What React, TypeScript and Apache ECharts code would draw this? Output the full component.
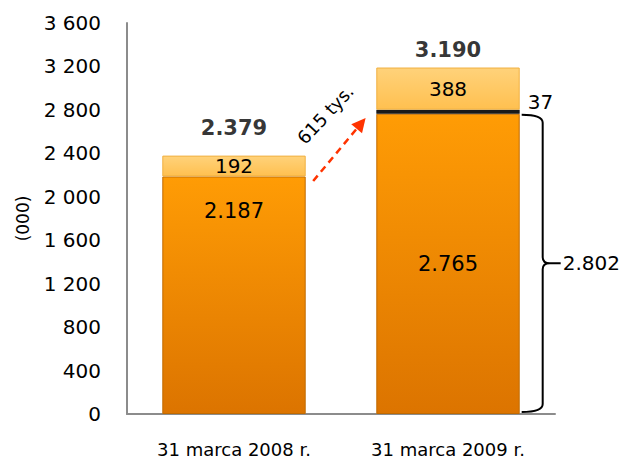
import React, { useEffect, useRef } from "react";
import * as echarts from "echarts";

const categories = ["31 marca 2008 r.", "31 marca 2009 r."];
const baseValues = [2187, 2765];
const lineValues = [0, 37];
const topValues = [192, 388];
const totals = [2379, 3190];
const braceData = [[1, 0, 2802]];
const arrowData = [[0, 2145, 1, 2725]];
const arrowLabel = "615 tys.";
const yTicks = [0, 400, 800, 1200, 1600, 2000, 2400, 2800, 3200, 3600];

const FONT = "DejaVu Sans";

const fmtPl = (v: number) => {
  const s = String(v);
  return s.length > 3 ? s.slice(0, s.length - 3) + "." + s.slice(-3) : s;
};
const fmtTick = (v: number) => {
  const s = String(v);
  return s.length > 3 ? s.slice(0, s.length - 3) + " " + s.slice(-3) : s;
};

const orange = new echarts.graphic.LinearGradient(0, 0, 0, 1, [
  { offset: 0, color: "#FF9C05" },
  { offset: 1, color: "#DC7400" },
]);
const light = new echarts.graphic.LinearGradient(0, 0, 0, 1, [
  { offset: 0, color: "#FFD27A" },
  { offset: 1, color: "#FFC050" },
]);

export default function App() {
  const ref = useRef<HTMLDivElement>(null);
  useEffect(() => {
    if (!ref.current) return;
    const chart = echarts.init(ref.current, undefined, { renderer: "svg" });
    const barWidthPct = 0.67;
    chart.setOption({
      animation: false,
      grid: { left: 127, right: 68, top: 23, bottom: 50, containLabel: false },
      xAxis: {
        type: "category",
        data: categories,
        axisLine: { lineStyle: { color: "#8c8c8c", width: 2 } },
        axisTick: { show: false },
        axisLabel: { color: "#000", fontFamily: FONT, fontSize: 18, margin: 26 },
      },
      yAxis: {
        type: "value",
        min: 0,
        max: 3600,
        interval: 400,
        name: "(000)",
        nameLocation: "middle",
        nameRotate: 90,
        nameGap: 96,
        nameTextStyle: { color: "#000", fontFamily: FONT, fontSize: 17 },
        axisLine: { show: true, lineStyle: { color: "#8c8c8c", width: 2 } },
        axisTick: { show: false },
        splitLine: { show: false },
        axisLabel: {
          color: "#000",
          fontFamily: FONT,
          fontSize: 20,
          margin: 26,
          formatter: (v: number) => (yTicks.includes(v) ? fmtTick(v) : ""),
        },
      },
      series: [
        {
          type: "bar",
          stack: "s",
          barWidth: barWidthPct * 100 + "%",
          data: baseValues.map((v, i) => ({
            value: v,
            label: {
              show: true,
              position: i === 0 ? "insideTop" : "inside",
              distance: 24,
              formatter: fmtPl(v),
              color: "#000",
              fontFamily: FONT,
              fontSize: 21,
            },
          })),
          itemStyle: { color: orange, borderColor: "#C06A00", borderWidth: 1 },
        },
        {
          type: "bar",
          stack: "s",
          data: lineValues.map((v) => ({
            value: v,
            label: {
              show: v > 0,
              position: "right",
              distance: 8,
              offset: [0, -10],
              formatter: String(v),
              color: "#000",
              fontFamily: FONT,
              fontSize: 20,
            },
          })),
          itemStyle: { color: "#1a1a1a" },
        },
        {
          type: "bar",
          stack: "s",
          data: topValues,
          itemStyle: { color: light, borderColor: "#F0B040", borderWidth: 1 },
          label: {
            show: true,
            position: "inside",
            color: "#000",
            fontFamily: FONT,
            fontSize: 20,
          },
        },
        {
          type: "scatter",
          symbolSize: 0,
          data: totals.map((v, i) => ({
            value: [i, v],
            label: { distance: i === 0 ? 17 : 7 },
          })),
          label: {
            show: true,
            position: "top",
            formatter: (p: any) => fmtPl(p.value[1]),
            color: "#000",
            fontFamily: FONT,
            fontSize: 21,
            fontWeight: "bold",
          },
          z: 5,
        },
        {
          type: "custom",
          data: braceData,
          encode: { x: 0, y: 1 },
          z: 6,
          renderItem: (params: any, api: any) => {
            const cat = api.value(0);
            const bottom = api.coord([cat, api.value(1)]);
            const top = api.coord([cat, api.value(2)]);
            const band = api.size([1, 0])[0];
            const x0 = bottom[0] + (band * barWidthPct) / 2 + 2;
            const x1 = x0 + 21;
            const x2 = x1 + 18;
            const yT = top[1] + 5;
            const yB = bottom[1] - 2;
            const yM = (yT + yB) / 2;
            const d =
              `M${x0},${yT} Q${x1},${yT} ${x1},${yT + 8} L${x1},${yM - 6} ` +
              `Q${x1},${yM} ${x1 + 7},${yM} L${x2},${yM} M${x1 + 7},${yM} ` +
              `Q${x1},${yM} ${x1},${yM + 6} L${x1},${yB - 8} Q${x1},${yB} ${x0},${yB}`;
            return {
              type: "group",
              children: [
                {
                  type: "path",
                  shape: { pathData: d },
                  style: { stroke: "#000", fill: "none", lineWidth: 2 },
                },
                {
                  type: "text",
                  x: x2 + 2,
                  y: yM,
                  style: {
                    text: fmtPl(api.value(2)),
                    fill: "#000",
                    fontFamily: FONT,
                    fontSize: 20,
                    verticalAlign: "middle",
                    align: "left",
                  },
                },
              ],
            };
          },
        },
        {
          type: "custom",
          data: arrowData,
          encode: { x: 0, y: 1 },
          z: 6,
          renderItem: (params: any, api: any) => {
            const band = api.size([1, 0])[0];
            const p0 = api.coord([api.value(0), api.value(1)]);
            const p1 = api.coord([api.value(2), api.value(3)]);
            const sx = p0[0] + band * 0.37;
            const sy = p0[1];
            const ex = p1[0] - band * 0.385;
            const ey = p1[1];
            const ang = Math.atan2(ey - sy, ex - sx);
            const hl = 14;
            const hw = 7;
            const bx = ex - hl * Math.cos(ang);
            const by = ey - hl * Math.sin(ang);
            const nx = -Math.sin(ang);
            const ny = Math.cos(ang);
            const mx = (sx + ex) / 2;
            const my = (sy + ey) / 2;
            return {
              type: "group",
              children: [
                {
                  type: "line",
                  shape: { x1: sx, y1: sy, x2: bx, y2: by },
                  style: { stroke: "#FF3300", lineWidth: 2.5, lineDash: [7, 5] },
                },
                {
                  type: "polygon",
                  shape: {
                    points: [
                      [ex, ey],
                      [bx + nx * hw, by + ny * hw],
                      [bx - nx * hw, by - ny * hw],
                    ],
                  },
                  style: { fill: "#FF3300" },
                },
                {
                  type: "text",
                  x: mx - 14,
                  y: my - 35,
                  rotation: 0.82,
                  style: {
                    text: arrowLabel,
                    fill: "#000",
                    fontFamily: FONT,
                    fontSize: 18,
                    align: "center",
                    verticalAlign: "middle",
                  },
                },
              ],
            };
          },
        },
      ],
    });
    return () => chart.dispose();
  }, []);
  return (
    <div
      ref={ref}
      style={{ position: "absolute", left: 0, top: 0, width: 623, height: 464 }}
    />
  );
}
